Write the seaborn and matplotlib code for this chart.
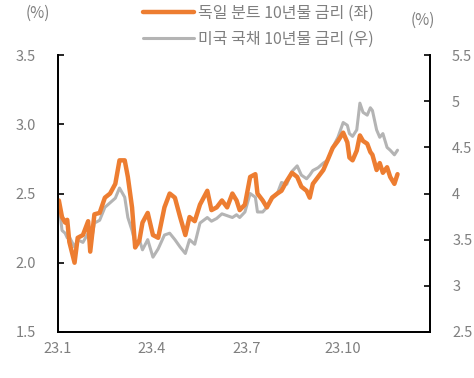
import pandas as pd
import matplotlib
matplotlib.use("Agg")
from matplotlib import pyplot as plt
import seaborn as sns

dates = ["2023-01-02", "2023-01-05", "2023-01-08", "2023-01-10", "2023-01-12", "2023-01-17",
         "2023-01-20", "2023-01-25", "2023-01-30", "2023-02-01", "2023-02-05", "2023-02-10",
         "2023-02-15", "2023-02-20", "2023-02-25", "2023-03-01", "2023-03-06", "2023-03-09",
         "2023-03-13", "2023-03-16", "2023-03-20", "2023-03-23", "2023-03-28", "2023-04-02",
         "2023-04-07", "2023-04-13", "2023-04-18", "2023-04-23", "2023-04-28", "2023-05-03",
         "2023-05-07", "2023-05-12", "2023-05-17", "2023-05-24", "2023-05-28", "2023-06-02",
         "2023-06-07", "2023-06-12", "2023-06-17", "2023-06-21", "2023-06-24", "2023-06-29",
         "2023-07-04", "2023-07-09", "2023-07-11", "2023-07-16", "2023-07-20", "2023-07-25",
         "2023-07-30", "2023-08-03", "2023-08-08", "2023-08-13", "2023-08-18", "2023-08-22",
         "2023-08-27", "2023-08-30", "2023-09-02", "2023-09-07", "2023-09-12", "2023-09-16",
         "2023-09-21", "2023-09-26", "2023-10-01", "2023-10-05", "2023-10-07", "2023-10-10",
         "2023-10-14", "2023-10-17", "2023-10-20", "2023-10-24", "2023-10-27", "2023-10-29",
         "2023-11-02", "2023-11-05", "2023-11-08", "2023-11-12", "2023-11-15", "2023-11-19",
         "2023-11-22"]

bund = [2.45, 2.33, 2.29, 2.31, 2.15, 2.00, 2.18, 2.20, 2.30, 2.08, 2.35, 2.36,
        2.47, 2.50, 2.57, 2.74, 2.74, 2.62, 2.40, 2.11, 2.16, 2.29, 2.36, 2.20,
        2.18, 2.40, 2.50, 2.47, 2.33, 2.20, 2.33, 2.30, 2.42, 2.52, 2.38, 2.40,
        2.45, 2.40, 2.50, 2.45, 2.38, 2.42, 2.62, 2.64, 2.50, 2.45, 2.40, 2.47,
        2.50, 2.52, 2.59, 2.65, 2.62, 2.55, 2.52, 2.47, 2.57, 2.62, 2.67, 2.74,
        2.83, 2.88, 2.94, 2.87, 2.76, 2.74, 2.81, 2.92, 2.88, 2.86, 2.80, 2.78,
        2.67, 2.72, 2.65, 2.69, 2.62, 2.57, 2.64]

ust = [3.90, 3.60, 3.57, 3.52, 3.53, 3.42, 3.50, 3.47, 3.57, 3.42, 3.68, 3.71,
       3.85, 3.90, 3.95, 4.06, 3.96, 3.74, 3.60, 3.46, 3.50, 3.39, 3.50, 3.31,
       3.40, 3.55, 3.57, 3.50, 3.42, 3.35, 3.50, 3.45, 3.68, 3.74, 3.70, 3.73,
       3.78, 3.76, 3.74, 3.77, 3.74, 3.80, 4.00, 3.96, 3.80, 3.80, 3.85, 3.96,
       4.00, 4.12, 4.10, 4.24, 4.30, 4.20, 4.16, 4.20, 4.25, 4.28, 4.33, 4.36,
       4.50, 4.61, 4.77, 4.74, 4.65, 4.62, 4.69, 4.98, 4.88, 4.85, 4.93, 4.90,
       4.69, 4.61, 4.65, 4.50, 4.47, 4.42, 4.47]

df = pd.DataFrame({"date": pd.to_datetime(dates), "bund": bund, "ust": ust})

sns.set_style("white")
plt.rcParams["font.family"] = ["Noto Sans CJK KR", "DejaVu Sans"]

grey = "#7f7f7f"
fig = plt.figure(figsize=(4.74, 3.78), dpi=100)
ax = fig.add_axes([0.122, 0.122, 0.785, 0.732])
ax2 = ax.twinx()

sns.lineplot(data=df, x="date", y="bund", ax=ax, color="#ED7D31", lw=3.2,
             label="독일 분트 10년물 금리 (좌)", legend=False)
sns.lineplot(data=df, x="date", y="ust", ax=ax2, color="#B4B4B4", lw=2.2,
             label="미국 국채 10년물 금리 (우)", legend=False)
ax.set_zorder(ax2.get_zorder() + 1)
ax.patch.set_visible(False)

ax.set_ylim(1.5, 3.5)
ax.set_yticks([1.5, 2.0, 2.5, 3.0, 3.5])
ax.set_yticklabels(["1.5", "2.0", "2.5", "3.0", "3.5"])
ax2.set_ylim(2.5, 5.5)
ax2.set_yticks([2.5, 3, 3.5, 4, 4.5, 5, 5.5])
ax2.set_yticklabels(["2.5", "3", "3.5", "4", "4.5", "5", "5.5"])

ticks = pd.to_datetime(["2023-01-01", "2023-04-01", "2023-07-01", "2023-10-01"])
ax.set_xticks(ticks)
ax.set_xticklabels(["23.1", "23.4", "23.7", "23.10"])
ax.set_xlim(pd.Timestamp("2023-01-01"), pd.Timestamp("2023-12-23"))
ax.set_xlabel("")
ax.set_ylabel("")
ax2.set_ylabel("")

for a in (ax, ax2):
    a.grid(False)
    a.spines["top"].set_visible(False)
    for s in ("left", "right", "bottom"):
        a.spines[s].set_color("black")
        a.spines[s].set_linewidth(1.3)
    a.tick_params(direction="in", length=4, width=1.2, color="black",
                  labelsize=10.5, labelcolor=grey, pad=16)
ax.tick_params(axis="x", pad=7)

fig.text(0.08, 0.965, "(%)", color=grey, fontsize=11, ha="center", va="center")
fig.text(0.893, 0.945, "(%)", color=grey, fontsize=11, ha="center", va="center")

h1, l1 = ax.get_legend_handles_labels()
h2, l2 = ax2.get_legend_handles_labels()
fig.legend(h1 + h2, l1 + l2, loc="upper center", bbox_to_anchor=(0.545, 1.025),
           frameon=False, fontsize=11.5, handlelength=3.2, handletextpad=0.3,
           labelspacing=0.55, labelcolor=grey)

fig.savefig("out.png", dpi=100)
